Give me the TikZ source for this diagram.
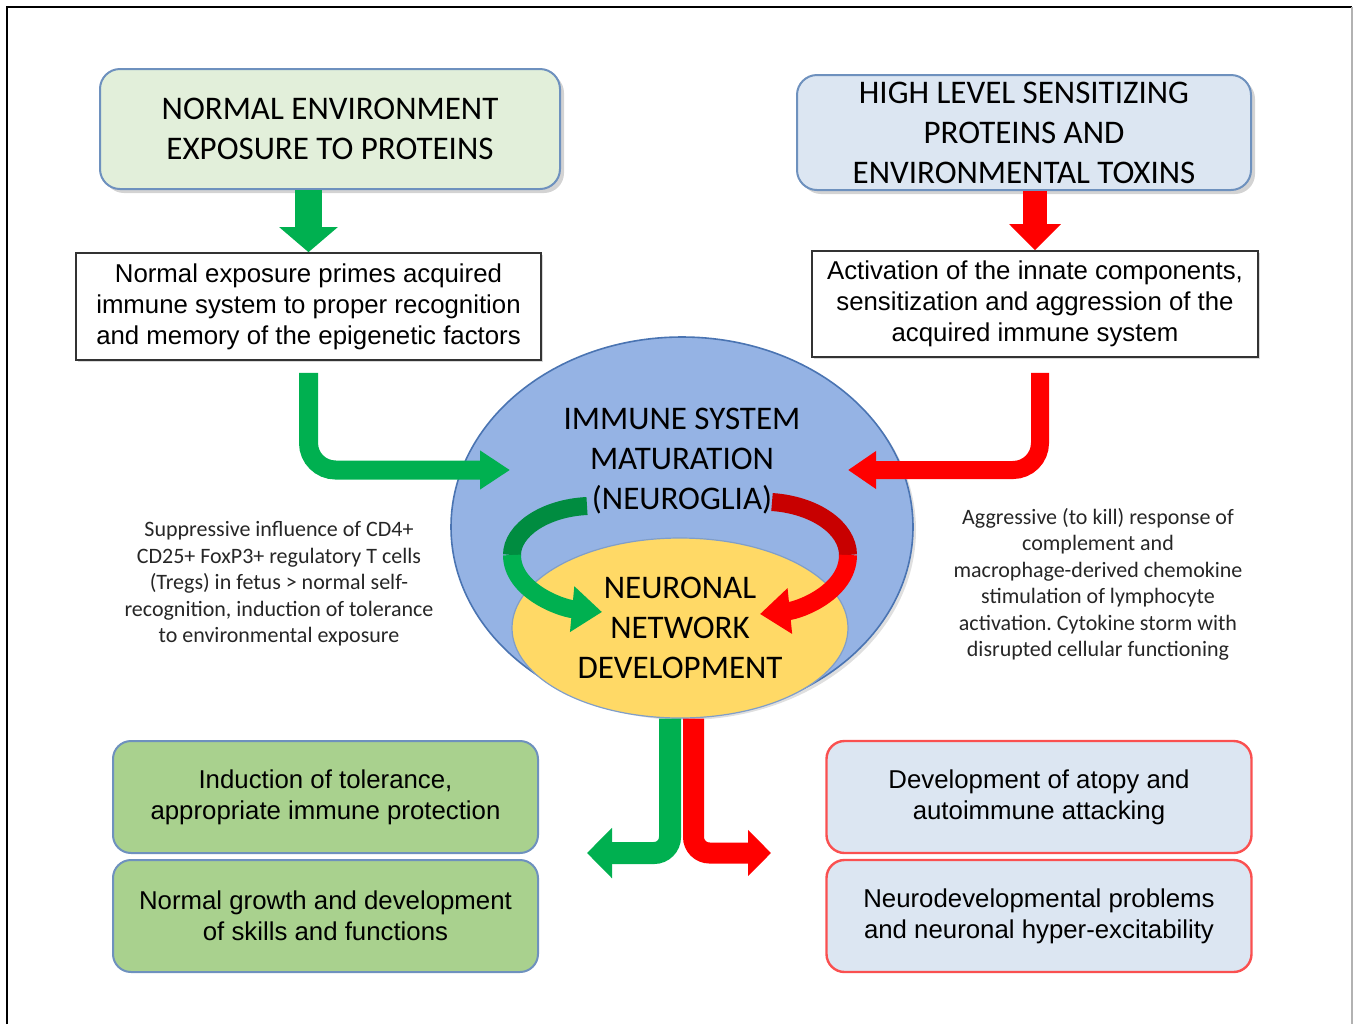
\documentclass[tikz,border=0pt]{standalone}
\usepackage{fontspec}
\setmainfont{Carlito}
\newfontfamily\arialfont{Liberation Sans}
\usetikzlibrary{arrows.meta,shapes.geometric,shadows}

\definecolor{normalfill}{RGB}{226,239,218}
\definecolor{hazardfill}{RGB}{220,230,242}
\definecolor{boxline}{RGB}{110,145,190}
\definecolor{goodfill}{RGB}{169,209,142}
\definecolor{immunefill}{RGB}{149,179,228}
\definecolor{immuneline}{RGB}{74,116,178}
\definecolor{neurofill}{RGB}{255,217,102}
\definecolor{arrgreen}{RGB}{0,176,80}
\definecolor{arrdkgreen}{RGB}{0,140,64}
\definecolor{arrred}{RGB}{255,0,0}
\definecolor{arrdkred}{RGB}{200,0,0}
\definecolor{badline}{RGB}{250,80,80}

\begin{document}
\begin{tikzpicture}[x=0.5pt,y=-0.5pt,
  headbox/.style={draw=boxline,line width=1pt,rounded corners=10pt,align=center,
    font=\fontsize{16.5}{20}\selectfont,inner sep=0pt,
    drop shadow={shadow xshift=2pt,shadow yshift=-2pt,opacity=0.35}},
  textbox/.style={draw=black!80,line width=0.8pt,fill=white,align=center,
    font=\arialfont\fontsize{12.9}{15.5}\selectfont,inner sep=0pt,
    drop shadow={shadow xshift=1.2pt,shadow yshift=-1.2pt,opacity=0.3}},
  endbox/.style={rounded corners=9pt,line width=1pt,align=center,
    minimum width=212.5pt,minimum height=56pt,inner sep=0pt,
    font=\arialfont\fontsize{12.9}{15.5}\selectfont},
  goodbox/.style={endbox,fill=goodfill,draw=boxline},
  badbox/.style={endbox,fill=hazardfill,draw=badline,line width=1.2pt},
  sidetext/.style={align=center,font=\fontsize{11}{13.25}\selectfont\frenchspacing,text=black!85},
  caption/.style={align=center,font=\fontsize{16.5}{20}\selectfont},
  downgreen/.style={arrgreen,line width=13.5pt,-{Triangle[width=28.5pt,length=12.5pt]}},
  downred/.style={arrred,line width=12pt,-{Triangle[width=25pt,length=13pt]}},
  bentgreen/.style={arrgreen,line width=9.5pt,rounded corners=13.5pt,-{Triangle[width=18.5pt,length=15pt]}},
  bentred/.style={arrred,line width=9pt,rounded corners=13.5pt,-{Triangle[width=18pt,length=14pt]}},
  loopgreen/.style={line width=9pt,-{Triangle[width=22pt,length=15pt]}},
  splitgreen/.style={arrgreen,line width=11pt,rounded corners=8pt,-{Triangle[width=24.5pt,length=12.5pt]}},
  splitred/.style={arrred,line width=10.5pt,rounded corners=8pt,-{Triangle[width=22.5pt,length=11.5pt]}}]
\useasboundingbox (0,0) rectangle (1355,1024);
% frame
\draw[line width=1.2pt] (7,1024) -- (7,7) -- (1352,7);
\draw[black!30,line width=0.6pt] (1352,7) -- (1352,1024);

% top row
\node[headbox,fill=normalfill,minimum width=230pt,minimum height=60pt] (norm) at (330,129)
  {NORMAL ENVIRONMENT\\EXPOSURE TO PROTEINS};
\node[headbox,fill=hazardfill,minimum width=227pt,minimum height=57.5pt] (hazard) at (1024,132.5)
  {HIGH LEVEL SENSITIZING\\PROTEINS AND\\ENVIRONMENTAL TOXINS};
\node[textbox,minimum width=232.5pt,minimum height=53.5pt] (prime) at (308.5,306.5)
  {Normal exposure primes acquired\\immune system to proper recognition\\and memory of the epigenetic factors};
\node[textbox,minimum width=223pt,minimum height=53pt] (innate) at (1035,304)
  {Activation of the innate components,\\sensitization and aggression of the\\acquired immune system};
\draw[downgreen] (norm.south -| prime.north) -- (prime.north);
\draw[downred] (hazard.south -| innate.north) -- (innate.north);

% centre
\node[ellipse,draw=immuneline,fill=immunefill,line width=0.8pt,minimum width=231pt,minimum height=190pt,
  drop shadow={shadow xshift=1.5pt,shadow yshift=-1.5pt,opacity=0.25}] (immune) at (682,527) {};
\node[ellipse,draw=immuneline!70,fill=neurofill,line width=0.6pt,minimum width=168pt,minimum height=90pt,
  inner sep=0pt,caption] (neuro) at (680,628) {NEURONAL\\NETWORK\\DEVELOPMENT};
\coordinate (gin) at (510,470);
\coordinate (rin) at (848,470);
\draw[bentgreen] ([yshift=-6pt]prime.south) |- (gin);
\draw[bentred] ([xshift=2.5pt,yshift=-7.5pt]innate.south) |- (rin);
\draw[loopgreen,arrdkgreen,-] (587,506) .. controls (545,508) and (512,530) .. (512,555);
\draw[loopgreen,arrgreen] (512,555) .. controls (512,590) and (560,608) .. (602,612);
\draw[loopgreen,arrdkred,-] (772,502) .. controls (815,505) and (848,528) .. (848,555);
\draw[loopgreen,arrred] (848,555) .. controls (848,592) and (800,610) .. (760,614);
\node[caption] (immunetxt) at (682,461) {IMMUNE SYSTEM\\MATURATION\\(NEUROGLIA)};

% side notes
\node[sidetext] (treg) at (279,584) {Suppressive influence of CD4+\\CD25+ FoxP3+ regulatory T cells\\(Tregs) in fetus > normal self-\\recognition, induction of tolerance\\to environmental exposure};
\node[sidetext] (storm) at (1098,584.5) {Aggressive (to kill) response of\\complement and\\macrophage-derived chemokine\\stimulation of lymphocyte\\activation. Cytokine storm with\\disrupted cellular functioning};

% outcomes
\coordinate (gout) at (587,853);
\coordinate (rout) at (771,853);
\draw[splitgreen] ([xshift=-5pt]neuro.south) |- (gout);
\draw[splitred] ([xshift=6.75pt]neuro.south) |- (rout);
\node[goodbox] (tol) at (325.5,797) {Induction of tolerance,\\appropriate immune protection};
\node[goodbox] (growth) at (325.5,916) {Normal growth and development\\of skills and functions};
\node[badbox] (atopy) at (1039,797) {Development of atopy and\\autoimmune attacking};
\node[badbox] (hyper) at (1039,916) {Neurodevelopmental problems\\and neuronal hyper-excitability};
\end{tikzpicture}
\end{document}
